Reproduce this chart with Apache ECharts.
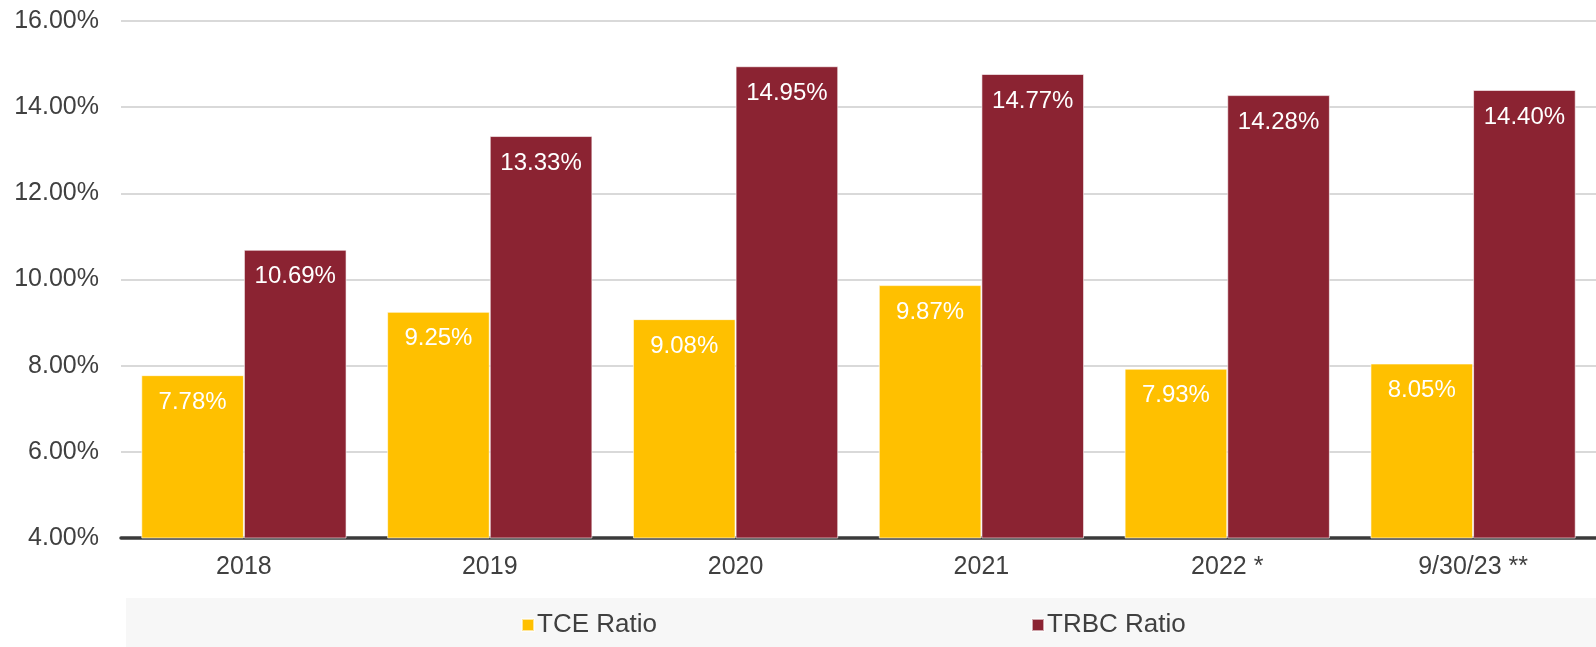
<!DOCTYPE html>
<html>
<head>
<meta charset="utf-8">
<title>TCE and TRBC Ratio</title>
<script src="https://cdn.jsdelivr.net/npm/echarts@6/dist/echarts.min.js"></script>
<style>
  html, body { margin: 0; padding: 0; background: #fff; }
  #chart { width: 1596px; height: 647px; }
</style>
</head>
<body>
<div id="chart"></div>
<script>
// chart values
const categories = ['2018', '2019', '2020', '2021', '2022 *', '9/30/23 **'];
const tceRatio = [7.78, 9.25, 9.08, 9.87, 7.93, 8.05];
const trbcRatio = [10.69, 13.33, 14.95, 14.77, 14.28, 14.40];
const seriesNames = ['TCE Ratio', 'TRBC Ratio'];

const FONT = '"Liberation Sans", Arial, Helvetica, sans-serif';
const TEXT = '#404040';

const chart = echarts.init(document.getElementById('chart'));

const barLabel = {
  show: true,
  position: 'insideTop',
  distance: 15,
  color: '#fff',
  fontFamily: FONT,
  fontSize: 24,
  formatter: (p) => p.value.toFixed(2) + '%'
};

const legendText = { color: TEXT, fontSize: 26, fontFamily: FONT, padding: [0, 0, 0, -2] };

const option = {
  animation: false,
  textStyle: { fontFamily: FONT },
  grid: {
    left: 121,
    right: -5,
    top: 21,
    bottom: 109
  },
  // grey band behind the legend
  graphic: [
    {
      type: 'rect',
      left: 126,
      top: 598,
      shape: { width: 1470, height: 49 },
      style: { fill: '#f7f7f7' },
      z: -1
    }
  ],
  legend: [
    {
      data: [seriesNames[0]],
      left: 516,
      top: 607,
      itemWidth: 12,
      itemHeight: 12,
      itemGap: 0,
      icon: 'rect',
      textStyle: legendText
    },
    {
      data: [seriesNames[1]],
      left: 1026,
      top: 607,
      itemWidth: 12,
      itemHeight: 12,
      itemGap: 0,
      icon: 'rect',
      textStyle: legendText
    }
  ],
  xAxis: {
    type: 'category',
    data: categories,
    axisTick: { show: false },
    axisLine: { lineStyle: { color: '#3a3a3a', width: 3.5 } },
    axisLabel: {
      color: TEXT,
      fontSize: 25,
      fontFamily: FONT,
      margin: 17
    }
  },
  yAxis: {
    type: 'value',
    min: 4,
    max: 16,
    interval: 2,
    axisLine: { show: false },
    axisTick: { show: false },
    axisLabel: {
      color: TEXT,
      fontSize: 25,
      fontFamily: FONT,
      margin: 22,
      formatter: (v) => v.toFixed(2) + '%'
    },
    splitLine: { lineStyle: { color: '#d9d9d9', width: 2 } }
  },
  series: [
    {
      name: seriesNames[0],
      type: 'bar',
      data: tceRatio,
      barGap: '0%',
      barCategoryGap: '16.5%',
      itemStyle: {
        color: '#FFC000',
        borderColor: 'rgba(255,255,255,0.6)',
        borderWidth: 1
      },
      label: barLabel
    },
    {
      name: seriesNames[1],
      type: 'bar',
      data: trbcRatio,
      barGap: '0%',
      barCategoryGap: '16.5%',
      itemStyle: {
        color: '#8B2332',
        borderColor: 'rgba(255,255,255,0.6)',
        borderWidth: 1
      },
      label: barLabel
    }
  ]
};

chart.setOption(option);

window.addEventListener('resize', () => chart.resize());
</script>
</body>
</html>
